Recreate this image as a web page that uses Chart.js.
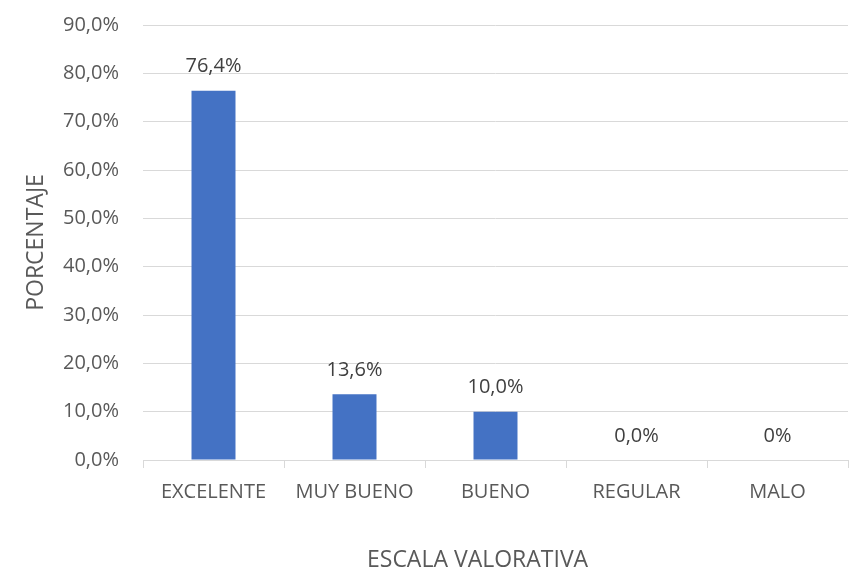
<!DOCTYPE html>
<html>
<head>
<meta charset="utf-8">
<script src="https://cdn.jsdelivr.net/npm/chart.js@4"></script>
<style>
  html, body { margin: 0; padding: 0; background: #fff; }
  #wrap { width: 867px; height: 574px; }
</style>
</head>
<body>
<div id="wrap"><canvas id="myChart"></canvas></div>
<script>
var categories = ["EXCELENTE", "MUY BUENO", "BUENO", "REGULAR", "MALO"];
var values = [76.4, 13.6, 10.0, 0.0, 0.0];
var valueLabels = ["76,4%", "13,6%", "10,0%", "0,0%", "0%"];
var yTicks = [0, 10, 20, 30, 40, 50, 60, 70, 80, 90];

var fontFamily = "'Open Sans', 'DejaVu Sans', sans-serif";
var textColor = "#595959";

// draws the value above each bar
var barLabels = {
  id: 'barLabels',
  afterDatasetsDraw: function(chart) {
    var ctx = chart.ctx;
    var meta = chart.getDatasetMeta(0);
    ctx.save();
    ctx.font = "20px " + fontFamily;
    ctx.fillStyle = "#404040";
    ctx.textAlign = "center";
    ctx.textBaseline = "middle";
    meta.data.forEach(function(bar, i) {
      ctx.fillText(valueLabels[i], bar.x, bar.y - 24);
    });
    ctx.restore();
  }
};

var ctx = document.getElementById('myChart').getContext('2d');
var myChart = new Chart(ctx, {
  type: 'bar',
  data: {
    labels: categories,
    datasets: [{
      data: values,
      backgroundColor: "#4472C4",
      borderWidth: 0,
      categoryPercentage: 1,
      barPercentage: 0.312
    }]
  },
  plugins: [barLabels],
  options: {
    responsive: true,
    maintainAspectRatio: false,
    animation: false,
    layout: { padding: { left: 19, right: 19, top: 25, bottom: 0 } },
    plugins: {
      legend: { display: false },
      tooltip: { enabled: false }
    },
    scales: {
      x: {
        offset: true,
        grid: {
          display: true,
          offset: true,
          drawOnChartArea: false,
          drawTicks: true,
          tickLength: 8,
          color: "#d9d9d9",
          lineWidth: 1
        },
        border: { display: true, color: "#d9d9d9", width: 1 },
        ticks: {
          color: textColor,
          font: { family: fontFamily, size: 20 },
          padding: 12,
          maxRotation: 0,
          autoSkip: false
        },
        title: {
          display: true,
          // trailing spaces nudge the title left like in the original
          text: "ESCALA VALORATIVA\u00a0\u00a0\u00a0\u00a0\u00a0\u00a0",
          color: textColor,
          font: { family: fontFamily, size: 23 },
          padding: { top: 4, bottom: 0 }
        },
        afterFit: function(scale) { scale.height = 114; }
      },
      y: {
        min: 0,
        max: 90,
        afterBuildTicks: function(scale) {
          scale.ticks = yTicks.map(function(v) { return { value: v }; });
        },
        grid: {
          color: "#d9d9d9",
          lineWidth: 1,
          drawTicks: true,
          tickLength: 21,
          tickColor: "rgba(0,0,0,0)"
        },
        border: { display: false },
        ticks: {
          color: textColor,
          font: { family: fontFamily, size: 20 },
          padding: 3,
          callback: function(v) { return v.toFixed(1).replace('.', ',') + '%'; }
        },
        title: {
          display: true,
          text: "PORCENTAJE",
          color: textColor,
          font: { family: fontFamily, size: 23 },
          padding: { top: 4, bottom: 4 }
        },
        afterFit: function(scale) { scale.width = 124; }
      }
    }
  }
});
</script>
</body>
</html>
